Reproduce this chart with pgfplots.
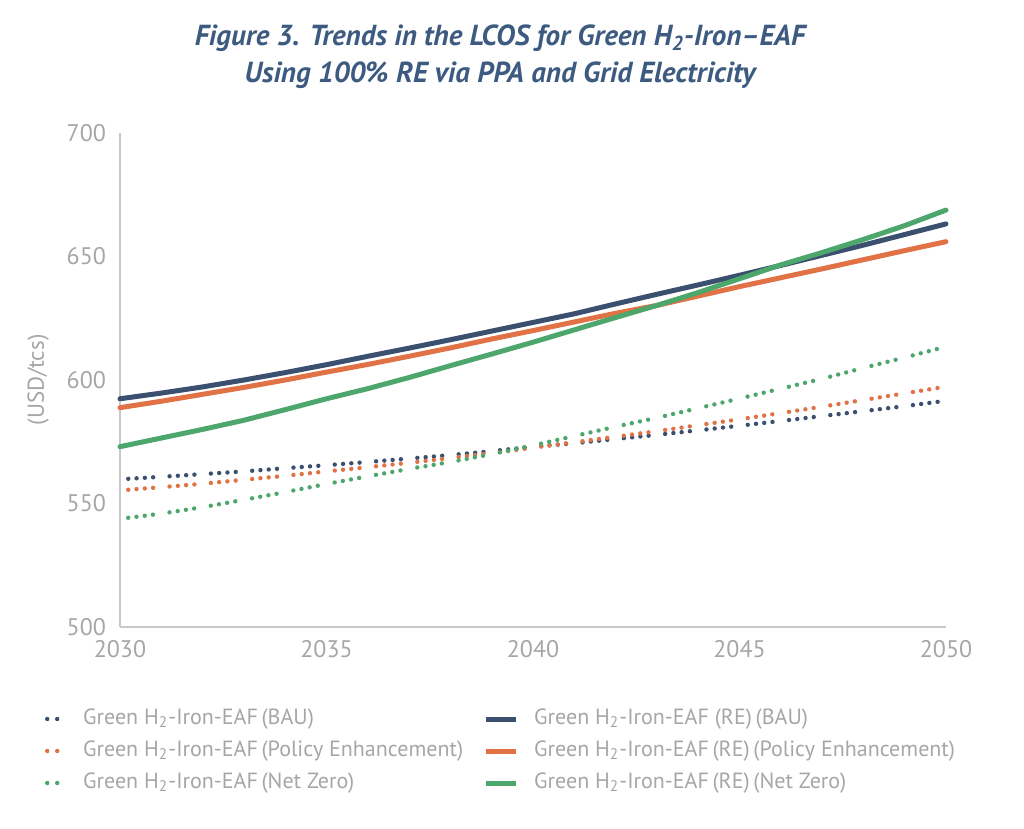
\documentclass[border=0pt]{standalone}
\usepackage{pgfplots}
\pgfplotsset{compat=1.18}
\usepackage{pgfplotstable}
\usepackage{fontspec}
\setmainfont{PT Sans}
\definecolor{cbau}{HTML}{3B4F6E}
\definecolor{cpe}{HTML}{E07245}
\definecolor{cnz}{HTML}{4DA66B}
\definecolor{ctitle}{HTML}{3D5A80}
\definecolor{cgray}{HTML}{A6A6A6}
\definecolor{cline}{HTML}{C8C8C8}

\pgfplotstableread{
year bau pe nz
2030 592.4 588.8 573.0
2031 594.7 591.4 576.5
2032 597.2 594.2 580.0
2033 600.0 597.0 583.7
2034 603.0 600.0 588.0
2035 606.2 603.2 592.4
2036 609.6 606.3 596.5
2037 612.9 609.6 601.0
2038 616.3 613.0 605.8
2039 619.8 616.6 610.5
2040 623.3 620.0 615.3
2041 626.8 623.5 620.3
2042 630.8 627.0 625.3
2043 634.7 630.2 630.2
2044 638.5 634.0 635.4
2045 642.4 637.8 641.0
2046 646.4 641.4 646.6
2047 650.5 645.0 651.6
2048 654.6 648.7 656.9
2049 658.9 652.4 662.5
2050 663.2 656.0 668.8
}\solidtab

% dotted series: each yearly segment is a separate piece (nan rows) so the dot groups restart every year
\pgfplotstableread{
year bau pe nz
2030 559.8 555.3 543.8
2031 560.8 556.6 545.9
2031 nan nan nan
2031 560.8 556.6 545.9
2032 561.9 558.0 548.5
2032 nan nan nan
2032 561.9 558.0 548.5
2033 563.0 559.6 551.5
2033 nan nan nan
2033 563.0 559.6 551.5
2034 564.3 561.2 554.6
2034 nan nan nan
2034 564.3 561.2 554.6
2035 565.5 563.0 557.9
2035 nan nan nan
2035 565.5 563.0 557.9
2036 566.8 564.7 561.0
2036 nan nan nan
2036 566.8 564.7 561.0
2037 568.2 566.5 564.0
2037 nan nan nan
2037 568.2 566.5 564.0
2038 569.6 568.4 566.8
2038 nan nan nan
2038 569.6 568.4 566.8
2039 571.2 570.4 570.0
2039 nan nan nan
2039 571.2 570.4 570.0
2040 573.0 572.6 573.5
2040 nan nan nan
2040 573.0 572.6 573.5
2041 574.4 574.8 577.3
2041 nan nan nan
2041 574.4 574.8 577.3
2042 576.1 577.0 581.1
2042 nan nan nan
2042 576.1 577.0 581.1
2043 577.8 579.3 584.7
2043 nan nan nan
2043 577.8 579.3 584.7
2044 579.6 581.7 588.6
2044 nan nan nan
2044 579.6 581.7 588.6
2045 581.5 584.1 592.5
2045 nan nan nan
2045 581.5 584.1 592.5
2046 583.4 586.6 596.5
2046 nan nan nan
2046 583.4 586.6 596.5
2047 585.4 589.2 600.5
2047 nan nan nan
2047 585.4 589.2 600.5
2048 587.4 591.9 604.9
2048 nan nan nan
2048 587.4 591.9 604.9
2049 589.4 594.6 609.1
2049 nan nan nan
2049 589.4 594.6 609.1
2050 591.6 597.3 613.5
}\dottab

\pgfplotsset{
  dotser/.style={line width=2.2pt, line cap=round,
    dash pattern=on 0pt off 4.15pt on 0pt off 4.15pt on 0pt off 4.15pt on 0pt off 30pt,
    dash phase=38.3pt, unbounded coords=jump,
    legend image code/.code={\draw[##1, dash pattern=on 0pt off 5pt, dash phase=0pt] (0pt,0pt) -- (5.2pt,0pt); \path[draw=none] (0pt,0pt) -- (10pt,0pt);}},
  solser/.style={line width=2.5pt, line cap=round, line join=round,
    legend image code/.code={\draw[##1, line cap=butt] (0pt,0pt) -- (15pt,0pt);}},
}

\newcommand{\HH}{H\textsubscript{2}}
\newcommand{\colone}[1]{\makebox[200pt][l]{#1}}

\begin{document}
\begin{tikzpicture}
\useasboundingbox (0pt,0pt) rectangle (512pt,414.5pt);
\node[font=\fontsize{14.5}{18.5}\selectfont\bfseries\itshape, text=ctitle, align=center] at (250pt,386pt)
  {Figure 3. Trends in the LCOS for Green \HH-Iron–EAF\\Using 100\% RE via PPA and Grid Electricity};
\begin{axis}[
  at={(60pt,101pt)}, anchor=south west,
  width=413pt, height=247pt, scale only axis,
  xmin=2030, xmax=2050, ymin=500, ymax=700,
  xtick={2030,2035,2040,2045,2050},
  ytick={500,550,600,650,700},
  axis x line*=bottom, axis y line*=left,
  axis line style={draw=cline, line width=0.8pt},
  major tick length=0pt,
  /pgf/number format/assume math mode=true,
  /pgf/number format/1000 sep={},
  tick label style={font=\fontsize{12}{14}\selectfont, text=cgray},
  xticklabel style={yshift=-3pt},
  yticklabel style={xshift=-3.5pt},
  ylabel={(USD/tcs)},
  ylabel style={at={(axis description cs:-0.099,0.5)}, anchor=center, font=\fontsize{11.5}{14}\selectfont, text=cgray},
  clip=false,
  legend columns=2,
  legend cell align=left,
  legend style={at={(-0.0908,-0.164)}, anchor=north west, draw=none, fill=none,
    inner sep=0pt, outer sep=0pt, font=\fontsize{11}{13}\selectfont, text=cgray,
    row sep=5pt, nodes={inner sep=0pt, text height=8pt, text depth=3pt},
    /tikz/every odd column/.append style={column sep=8pt}},
]
\addplot[dotser, color=cbau] table[x=year, y=bau] {\dottab};
\addlegendentry{\colone{Green \HH-Iron-EAF\,(BAU)}}
\addplot[solser, color=cbau] table[x=year, y=bau] {\solidtab};
\addlegendentry{Green \HH-Iron-EAF (RE)\,(BAU)}
\addplot[dotser, color=cpe] table[x=year, y=pe] {\dottab};
\addlegendentry{\colone{Green \HH-Iron-EAF\,(Policy Enhancement)}}
\addplot[solser, color=cpe] table[x=year, y=pe] {\solidtab};
\addlegendentry{Green \HH-Iron-EAF\,(RE)\,(Policy Enhancement)}
\addplot[dotser, color=cnz] table[x=year, y=nz] {\dottab};
\addlegendentry{\colone{Green \HH-Iron-EAF\,(Net Zero)}}
\addplot[solser, color=cnz] table[x=year, y=nz] {\solidtab};
\addlegendentry{Green \HH-Iron-EAF\,(RE)\,(Net Zero)}
\end{axis}
\end{tikzpicture}
\end{document}
